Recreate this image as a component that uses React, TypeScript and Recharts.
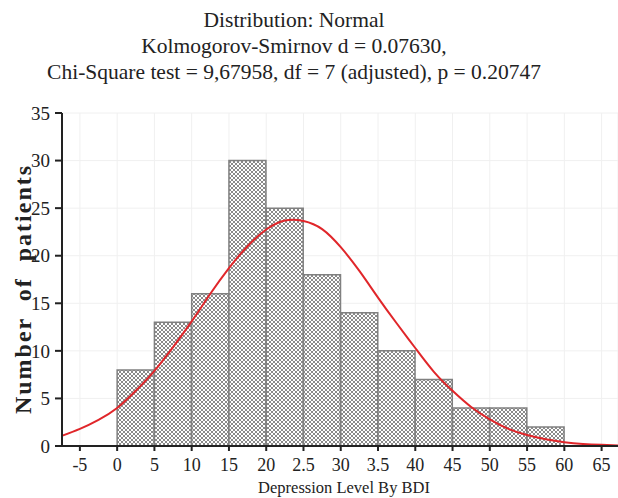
import React from "react";
import {
  ComposedChart,
  Bar,
  Line,
  XAxis,
  YAxis,
  CartesianGrid
} from "recharts";

// histogram bins (mid-points of the 5-wide classes) and counts
const binMids = [2.5, 7.5, 12.5, 17.5, 22.5, 27.5, 32.5, 37.5, 42.5, 47.5, 52.5, 57.5];
const patientCounts = [8, 13, 16, 30, 25, 18, 14, 10, 7, 4, 4, 2];

// fitted normal curve
const curveX = [-7.5, -5, -2.5, 0, 2.5, 5, 7.5, 10, 12.5, 15, 17.5, 20, 22.5, 25, 27.5, 30,
  32.5, 35, 37.5, 40, 42.5, 45, 47.5, 50, 52.5, 55, 57.5, 60, 62.5, 65, 67.5];
const curveY = [1.05, 1.8, 2.75, 4.0, 5.8, 7.9, 10.4, 13.1, 16.0, 18.7, 21.0, 22.75, 23.7, 23.65,
  22.8, 20.9, 18.4, 15.6, 12.9, 10.3, 7.8, 5.8, 4.1, 2.8, 1.8, 1.15, 0.7, 0.4, 0.22, 0.12, 0.05];

const xTicks = [-5, 0, 5, 10, 15, 20, 25, 30, 35, 40, 45, 50, 55, 60, 65];
const xTickLabels = ["-5", "0", "5", "10", "15", "20", "2.5", "30", "3.5", "40", "45", "50", "55", "60", "65"];
const yTicks = [0, 5, 10, 15, 20, 25, 30, 35];

const titleLines = [
  "Distribution: Normal",
  "Kolmogorov-Smirnov d = 0.07630,",
  "Chi-Square test = 9,67958, df = 7 (adjusted), p = 0.20747"
];

const histData = binMids.map((x, i) => ({ x, count: patientCounts[i] }));
const curveData = curveX.map((x, i) => ({ x, fit: curveY[i] }));

const serif = "'Liberation Serif', 'Times New Roman', serif";

export default function App() {
  return (
    <div
      style={{
        position: "fixed",
        left: 0,
        top: 0,
        width: 618,
        height: 498,
        background: "#fff",
        fontFamily: serif,
        color: "#222"
      }}
    >
      {/* title */}
      <div
        style={{
          position: "absolute",
          left: 0,
          top: 7,
          width: 588,
          textAlign: "center",
          fontSize: 21.5,
          lineHeight: "26px"
        }}
      >
        {titleLines.map((t) => (
          <div key={t}>{t}</div>
        ))}
      </div>

      {/* y label */}
      <div
        style={{
          position: "absolute",
          left: 23,
          top: 289,
          transform: "translate(-50%, -50%) rotate(-90deg)",
          whiteSpace: "nowrap",
          fontWeight: "bold",
          fontSize: 24,
          letterSpacing: 2,
          wordSpacing: 8
        }}
      >
        Number of patients
      </div>

      <div style={{ position: "absolute", left: 0, top: 0 }}>
        <ComposedChart
          width={618}
          height={498}
          data={histData}
          margin={{ top: 113, right: 0, bottom: 0, left: 0 }}
          barCategoryGap={0}
          barGap={0}
        >
          <defs>
            <pattern id="hatch" width="4" height="4" patternUnits="userSpaceOnUse">
              <rect width="4" height="4" fill="#ffffff" />
              <path d="M0,0 L4,4 M4,0 L0,4" stroke="#8a8a8a" strokeWidth={1} />
            </pattern>
          </defs>
          <CartesianGrid stroke="#f0f0f0" />
          <XAxis
            dataKey="x"
            type="number"
            domain={[-7.4, 67.2]}
            allowDataOverflow
            ticks={xTicks}
            tickFormatter={(v, i) => xTickLabels[i]}
            height={52}
            tickSize={5}
            tickMargin={7}
            axisLine={{ stroke: "#222", strokeWidth: 2 }}
            tickLine={{ stroke: "#222", strokeWidth: 2 }}
            tick={{ fill: "#222", fontSize: 18, fontFamily: serif }}
            interval={0}
            label={{
              value: "Depression Level By BDI",
              position: "insideBottom",
              offset: 5,
              dx: 4,
              fill: "#222",
              fontSize: 16.5,
              fontFamily: serif
            }}
          />
          <XAxis
            xAxisId="top"
            dataKey="x"
            type="number"
            orientation="top"
            mirror
            height={0}
            domain={[-7.4, 67.2]}
            allowDataOverflow
            ticks={xTicks}
            tick={false}
            tickSize={3}
            axisLine={{ stroke: "#222", strokeWidth: 2 }}
            tickLine={{ stroke: "#222", strokeWidth: 1.5 }}
          />
          <YAxis
            type="number"
            domain={[0, 35]}
            ticks={yTicks}
            width={62}
            tickSize={7}
            tickMargin={5}
            axisLine={{ stroke: "#222", strokeWidth: 2 }}
            tickLine={{ stroke: "#222", strokeWidth: 2 }}
            tick={{ fill: "#222", fontSize: 19, fontFamily: serif }}
            interval={0}
          />
          <Bar
            dataKey="count"
            fill="url(#hatch)"
            stroke="#808080"
            strokeWidth={1.5}
            isAnimationActive={false}
          />
          <Line
            xAxisId="top"
            data={curveData}
            dataKey="fit"
            type="natural"
            stroke="#e0262a"
            strokeWidth={2}
            dot={false}
            activeDot={false}
            isAnimationActive={false}
          />
        </ComposedChart>
      </div>
    </div>
  );
}
